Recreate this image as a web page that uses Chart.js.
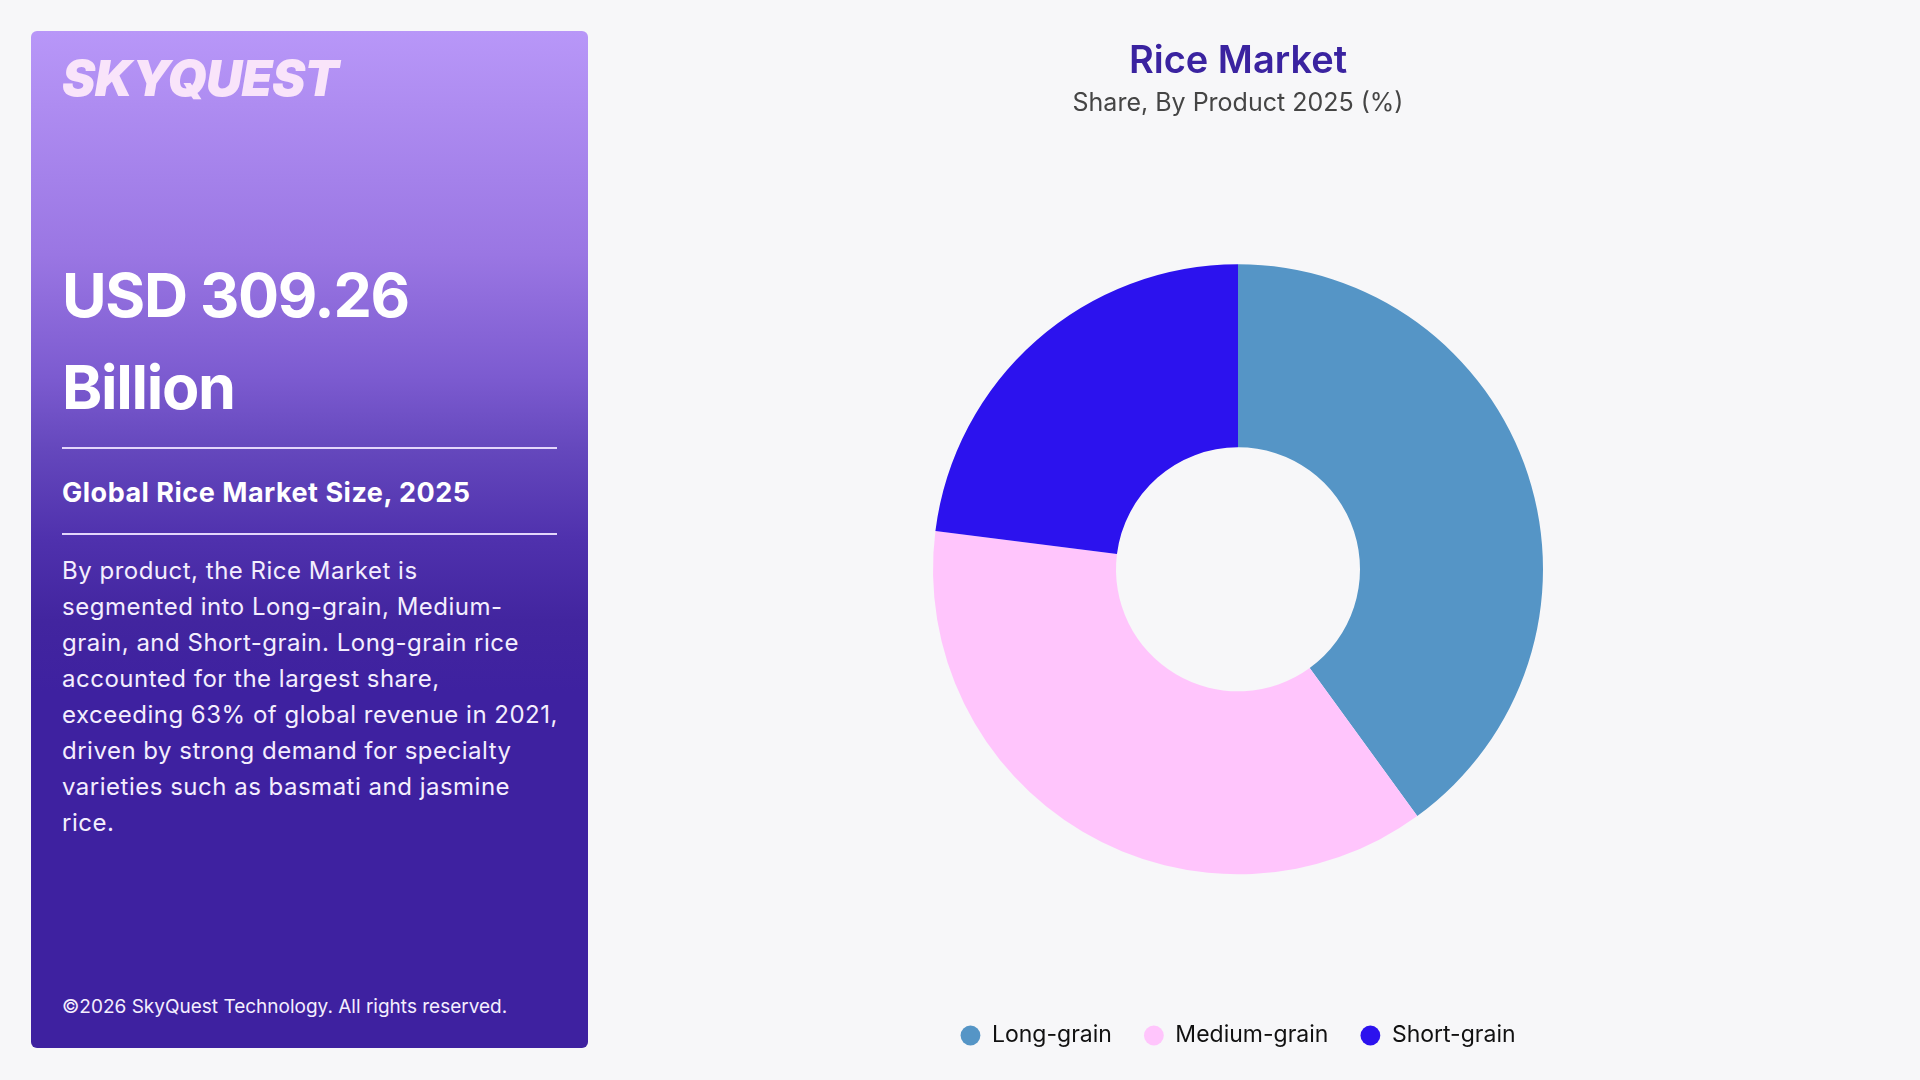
<!DOCTYPE html>
<html>
<head>
<meta charset="utf-8">
<script src="https://cdn.jsdelivr.net/npm/chart.js@4.4.1/dist/chart.umd.min.js"></script>
<style>
  html, body { margin: 0; padding: 0; }
  body {
    width: 1920px; height: 1080px; background: #f7f7f9; position: relative;
    overflow: hidden; font-family: Inter, "Open Sans", sans-serif;
  }
  .panel {
    position: absolute; left: 31px; top: 31px; width: 557px; height: 1017px;
    border-radius: 6px;
    background: linear-gradient(180deg, #b897f8 0%, #9a76e3 22%, #7c5bd0 34%, #6548bd 41%, #4f31ad 50%, #42259f 58%, #3e21a0 65%, #3e21a0 100%);
    color: #fff;
  }
  .panel div { position: absolute; left: 31px; white-space: nowrap; }
  .logo { top: 22px; font-size: 50px; line-height: 1; font-weight: 900; font-style: italic; color: #f9e4fa; letter-spacing: -0.6px; }
  .big { top: 218px; font-size: 61px; line-height: 92px; font-weight: 700; letter-spacing: -1.3px; }
  .rule { height: 2px; width: 495px; background: #e3d6fb; }
  .sub { top: 448px; font-size: 27px; line-height: 1; font-weight: 700; letter-spacing: 0.5px; }
  .para { top: 522px; font-size: 24px; line-height: 36px; font-weight: 400; color: #f4eefe; letter-spacing: 0.5px; }
  .copy { top: 966px; font-size: 19px; line-height: 1; color: #f4eefe; }
  .chart-box { position: absolute; left: 620px; top: 0; width: 1236px; height: 1080px; }
</style>
</head>
<body>
<div class="panel">
  <div class="logo">SKYQUEST</div>
  <div class="big">USD 309.26<br>Billion</div>
  <div class="rule" style="top:416px"></div>
  <div class="sub">Global Rice Market Size, 2025</div>
  <div class="rule" style="top:502px"></div>
  <div class="para">By product, the Rice Market is<br>segmented into Long-grain, Medium-<br>grain, and Short-grain. Long-grain rice<br>accounted for the largest share,<br>exceeding 63% of global revenue in 2021,<br>driven by strong demand for specialty<br>varieties such as basmati and jasmine<br>rice.</div>
  <div class="copy">©2026 SkyQuest Technology. All rights reserved.</div>
</div>
<div class="chart-box"><canvas id="donut"></canvas></div>
<script>
// Share by product 2025 (%), read from the donut
const categories = ['Long-grain', 'Medium-grain', 'Short-grain'];
const shareValues = [40, 37, 23];
const sliceColors = ['#5595c6', '#ffc5fc', '#2c12ee'];

const ctx = document.getElementById('donut').getContext('2d');
const donut = new Chart(ctx, {
    type: 'doughnut',
    data: {
        labels: categories,
        datasets: [{
            data: shareValues,
            backgroundColor: sliceColors,
            borderWidth: 0,
            radius: 305,
            cutout: '40%'
        }]
    },
    options: {
        responsive: true,
        maintainAspectRatio: false,
        animation: false,
        layout: { padding: { bottom: 23 } },
        plugins: {
            title: {
                display: true,
                text: 'Rice Market',
                color: '#3a23a0',
                font: { family: 'Inter', size: 38, weight: '600' },
                padding: { top: 39, bottom: 4 }
            },
            subtitle: {
                display: true,
                text: 'Share, By Product 2025 (%)',
                color: '#454545',
                font: { family: 'Inter', size: 25, weight: '400' },
                padding: { top: 0, bottom: 28 }
            },
            legend: {
                position: 'bottom',
                labels: {
                    usePointStyle: true,
                    pointStyle: 'circle',
                    boxWidth: 20,
                    boxHeight: 14,
                    padding: 32,
                    color: '#111',
                    font: { family: 'Inter', size: 23 }
                }
            },
            tooltip: { enabled: false }
        }
    }
});
</script>
</body>
</html>
